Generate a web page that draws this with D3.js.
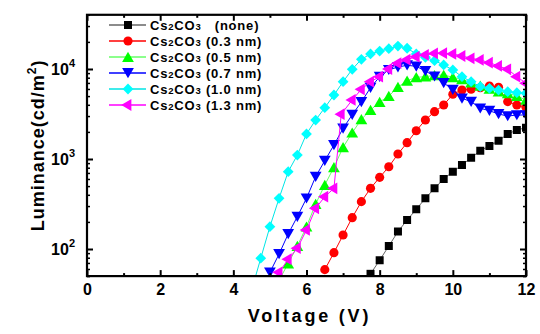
<!DOCTYPE html>
<html><head><meta charset="utf-8">
<script src="https://cdn.jsdelivr.net/npm/d3@7"></script>
<style>
html,body{margin:0;padding:0;background:#fff;}
text{font-family:"Liberation Sans",Arial,sans-serif;font-weight:bold;fill:#000;}
</style></head>
<body><svg id="c" width="540" height="334"></svg>
<script>
// ---- data ----
const seriesNames = ["none", "0.3 nm", "0.5 nm", "0.7 nm", "1.0 nm", "1.3 nm"];
const vNone = [7.75,8,8.25,8.5,8.75,9,9.25,9.5,9.75,10,10.25,10.5,10.75,11,11.25,11.5,11.75,12];
const lNone = [53,75,108,156,210,276,366,472,600,723,858,1033,1236,1393,1596,1896,2100,2230];
const v03 = [6.5,6.75,7,7.25,7.5,7.75,8,8.25,8.5,8.75,9,9.25,9.5,9.75,10,10.25,10.5,10.75,11,11.25,11.5,11.75,12];
const l03 = [59,91,143,223,336,472,625,820,1136,1517,2060,2712,3356,3981,5237,5843,5950,6200,6470,6250,4340,3980,3750];
const v05 = [5.25,5.5,5.75,6,6.25,6.5,6.75,7,7.25,7.5,7.75,8,8.25,8.5,8.75,9,9.25,9.5,9.75,10,10.25,10.5,10.75,11,11.25,11.5,11.75,12];
const l05 = [45,69,108,177,316,514,809,1350,1960,2760,3500,4300,5000,6300,7400,8080,8220,8500,8580,8080,7680,7050,6500,6000,5600,5370,5010,4530];
const v07 = [5,5.25,5.5,5.75,6,6.25,6.5,6.75,7,7.25,7.5,7.75,8,8.25,8.5,8.75,9,9.25,9.5,9.75,10,10.25,10.5,10.75,11,11.25,11.5,11.75,12];
const l07 = [55,88,147,229,366,637,957,1430,2190,3100,4300,6200,8200,9800,10500,11000,10700,9500,8300,7000,5900,4720,4340,3660,3440,3160,3000,3080,3080];
const v10 = [4.5,4.75,5,5.25,5.5,5.75,6,6.25,6.5,6.75,7,7.25,7.5,7.75,8,8.25,8.5,8.75,9,9.25,9.5,9.75,10,10.25,10.5,10.75,11,11.25,11.5,11.75,12];
const l10 = [35,79,177,366,723,1107,1900,2710,3715,5140,7220,9920,12820,14690,15800,16800,18000,17000,14700,13500,12370,11080,9750,8220,7220,6370,6100,5840,5600,5460,5370];
const v13 = [5.25,5.5,5.75,6,6.25,6.5,6.75,6.95,7.25,7.5,7.75,8,8.25,8.5,8.75,9,9.25,9.5,9.75,10,10.25,10.5,10.75,11,11.25,11.5,11.75,12];
const l13 = [55,77,102,163,283,381,472,3150,4530,5950,7220,8220,10000,11600,12700,13700,14310,14900,15000,14700,13940,13150,12590,11750,10800,9920,8220,6940];
const xTicks = [0,2,4,6,8,10,12];
const yTicks = [100,1000,10000];

const xs = [vNone, v03, v05, v07, v10, v13];
const ys = [lNone, l03, l05, l07, l10, l13];
const markerColors = ["#000000","#ff0000","#00ff00","#0000ff","#00ffff","#ff00ff"];
const lineColors = ["#666666","#ff0000","#66ff66","#0000ff","#00e5e5","#ff00ff"];

// ---- layout ----
const svg = d3.select("#c");
const L = 87, R = 526;
const x = d3.scaleLinear().domain([0,12]).range([L,R]);
const y = d3.scaleLog().domain([50,40000]).range([276.1,14.8]);
const T = y(40000), B = y(50);

svg.append("clipPath").attr("id","clip").append("rect")
  .attr("x",L).attr("y",T).attr("width",R-L).attr("height",B-T);

// symbols
function symPath(i){
  if(i===0) return d3.symbol(d3.symbolSquare, 64)();
  if(i===1) return d3.symbol(d3.symbolCircle, 66)();
  if(i===4) return d3.symbol(d3.symbolSquare, 58)();
  return d3.symbol(d3.symbolTriangle, 60)();
}
function symRot(i){ return i===3?180:(i===4?45:(i===5?-90:0)); }
function symDy(i){ return i===2?1.5:(i===3?-1.5:0); }

const plot = svg.append("g").attr("clip-path","url(#clip)");
seriesNames.forEach((n,i)=>{
  const pts = xs[i].map((v,j)=>[v, ys[i][j]]);
  plot.append("path").datum(pts)
    .attr("d", d3.line().x(d=>x(d[0])).y(d=>y(d[1])))
    .attr("fill","none").attr("stroke",lineColors[i]).attr("stroke-width",1);
  plot.append("g").selectAll("path").data(pts).join("path")
    .attr("d", symPath(i))
    .attr("transform", d=>`translate(${x(d[0])},${y(d[1])+symDy(i)}) rotate(${symRot(i)})`)
    .attr("fill", markerColors[i]);
});

// axes (ticks inward)
const ax = svg.append("g");
const xAxisB = d3.axisBottom(x).tickValues(xTicks).tickSizeInner(-6).tickSizeOuter(0).tickPadding(8).tickFormat(d3.format("d"));
const gB = ax.append("g").attr("transform",`translate(0,${B})`).call(xAxisB);
gB.select(".domain").remove();
gB.selectAll("text").attr("font-size",16).attr("font-family","Liberation Sans, Arial, sans-serif").attr("font-weight","bold");
gB.selectAll("line").attr("stroke-width",2);
// x minor
const xMinor = d3.range(1,12,2);
const gBm = ax.append("g").attr("transform",`translate(0,${B})`).call(d3.axisBottom(x).tickValues(xMinor).tickSizeInner(-3).tickSizeOuter(0).tickFormat(""));
gBm.select(".domain").remove(); gBm.selectAll("line").attr("stroke-width",2);
const gT = ax.append("g").attr("transform",`translate(0,${T})`).call(d3.axisTop(x).tickValues(xTicks).tickSizeInner(-6).tickSizeOuter(0).tickFormat(""));
gT.select(".domain").remove(); gT.selectAll("line").attr("stroke-width",2);
const gTm = ax.append("g").attr("transform",`translate(0,${T})`).call(d3.axisTop(x).tickValues(xMinor).tickSizeInner(-3).tickSizeOuter(0).tickFormat(""));
gTm.select(".domain").remove(); gTm.selectAll("line").attr("stroke-width",2);

// y ticks
const yMinor = [];
[10,100,1000,10000].forEach(p=>{for(let k=2;k<=9;k++){const v=p*k; if(v>=50&&v<=40000) yMinor.push(v);}});
[["L",L],["R",R]].forEach(([s,px])=>{
  const axMaj = (s==="L"?d3.axisLeft(y):d3.axisRight(y)).tickValues(yTicks).tickSizeInner(-6).tickSizeOuter(0).tickFormat("");
  const g1 = ax.append("g").attr("transform",`translate(${px},0)`).call(axMaj);
  g1.select(".domain").remove(); g1.selectAll("line").attr("stroke-width",2);
  const axMin = (s==="L"?d3.axisLeft(y):d3.axisRight(y)).tickValues(yMinor).tickSizeInner(-3).tickSizeOuter(0).tickFormat("");
  const g2 = ax.append("g").attr("transform",`translate(${px},0)`).call(axMin);
  g2.select(".domain").remove(); g2.selectAll("line").attr("stroke-width",1.5);
});
// y labels 10^n
yTicks.forEach(v=>{
  const t = svg.append("text").attr("x",L-12).attr("y",y(v)+6).attr("text-anchor","end").attr("font-size",16);
  t.append("tspan").text("10");
  t.append("tspan").attr("font-size",11).attr("dy",-8).text(String(Math.round(Math.log10(v))));
});

// frame
svg.append("rect").attr("x",L).attr("y",T).attr("width",R-L).attr("height",B-T)
  .attr("fill","none").attr("stroke","#000").attr("stroke-width",2.2);

// axis titles
svg.append("text").attr("x",(L+R)/2+3).attr("y",322).attr("text-anchor","middle")
  .attr("font-size",18).attr("letter-spacing",2.8).text("Voltage (V)");
const yt = svg.append("text").attr("transform",`translate(44,${(T+B)/2}) rotate(-90)`)
  .attr("text-anchor","middle").attr("font-size",18).attr("letter-spacing",1);
yt.append("tspan").text("Luminance(cd/m");
yt.append("tspan").attr("font-size",12).attr("dy",-8).text("2");
yt.append("tspan").attr("dy",8).text(")");

// legend
const lg = svg.append("g");
seriesNames.forEach((n,i)=>{
  const ly = 25 + i*16;
  lg.append("line").attr("x1",109).attr("x2",146).attr("y1",ly).attr("y2",ly)
    .attr("stroke",lineColors[i]).attr("stroke-width",1.5);
  lg.append("path").attr("d",symPath(i))
    .attr("transform",`translate(128,${ly+symDy(i)}) rotate(${symRot(i)})`)
    .attr("fill",markerColors[i]);
  const t = lg.append("text").attr("x",150).attr("y",ly+5).attr("font-size",13).attr("letter-spacing",0.8)
    .attr("xml:space","preserve").style("white-space","pre");
  t.append("tspan").text("Cs");
  t.append("tspan").attr("font-size",9.5).text("2");
  t.append("tspan").text("CO");
  t.append("tspan").attr("font-size",9.5).text("3");
  t.append("tspan").text(i===0 ? "   (" + n + ")" : " (" + n + ")");
});
</script></body></html>
